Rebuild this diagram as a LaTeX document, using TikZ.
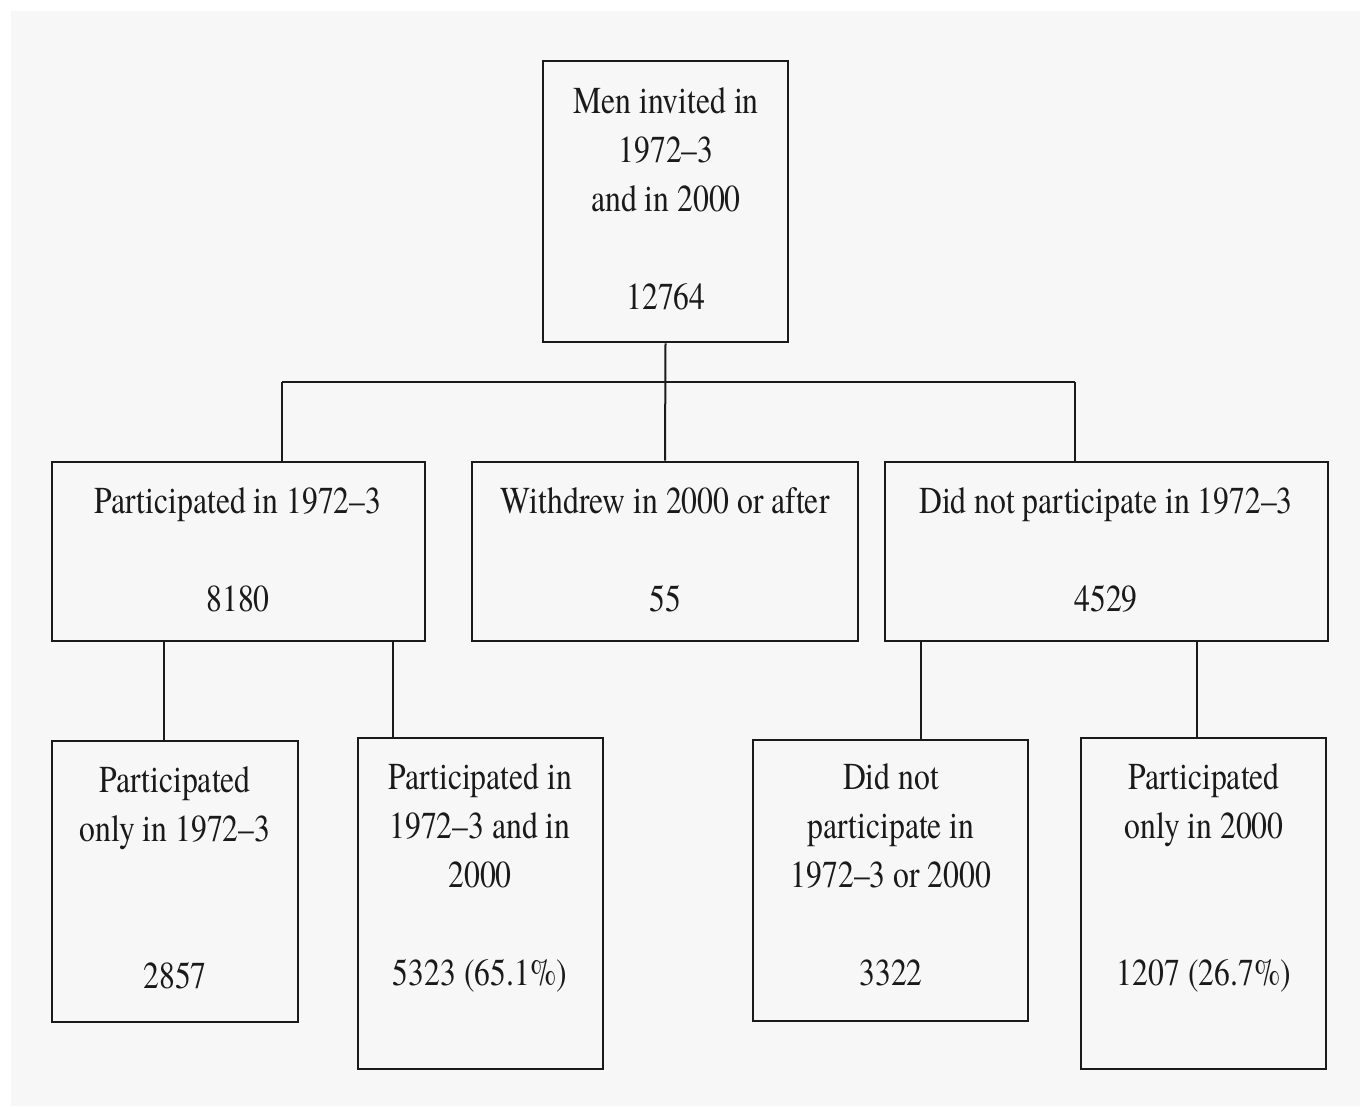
\documentclass[tikz,border=0pt]{standalone}
\usepackage{fontspec}
\setmainfont{TeX Gyre Termes}[FakeStretch=0.833]
\definecolor{bg}{HTML}{F7F7F7}
\definecolor{ink}{HTML}{1A1A1A}
\begin{document}
\begin{tikzpicture}[x=1pt,y=-1pt,
  box/.style={draw=ink, line width=2.6pt, fill=bg, inner sep=0pt, rectangle},
  lbl/.style={anchor=north, inner sep=0pt, align=center, text=ink,
    font=\fontsize{38}{49}\selectfont},
  conn/.style={draw=ink, line width=2pt}]
\useasboundingbox (0,0) rectangle (1360,1106);
\fill[white] (0,0) rectangle (1360,1106);
\fill[bg] (11,11) rectangle (1360,1106);
% boxes
\node[box, minimum width=245, minimum height=281] (top) at (665.5,201.5) {};
\node[box, minimum width=373, minimum height=179] (A) at (238.5,551.5) {};
\node[box, minimum width=386, minimum height=179] (B) at (665,551.5) {};
\node[box, minimum width=443, minimum height=179] (C) at (1106.5,551.5) {};
\node[box, minimum width=246, minimum height=281] (D) at (175,881.5) {};
\node[box, minimum width=245, minimum height=331] (E) at (480.5,903.5) {};
\node[box, minimum width=275, minimum height=281] (F) at (890.5,880.5) {};
\node[box, minimum width=245, minimum height=331] (G) at (1203.5,903.5) {};
% labels
\node[lbl] (ttop) at (666,87) {Men invited in\\1972--3\\and in 2000\\[49pt]12764};
\node[lbl] (tA) at (238,487) {Participated in 1972--3\\[49pt]8180};
\node[lbl] (tB) at (665,487) {Withdrew in 2000 or after\\[49pt]55};
\node[lbl] (tC) at (1106,487) {Did not participate in 1972--3\\[49pt]4529};
\node[lbl] (tD) at (175,766) {Participated\\only in 1972--3\\[98pt]2857};
\node[lbl] (tE) at (480,763) {Participated in\\1972--3 and in\\2000\\[49pt]5323 (65.1\%)};
\node[lbl] (tF) at (891,763) {Did not\\participate in\\1972--3 or 2000\\[49pt]3322};
\node[lbl] (tG) at (1204,763) {Participated\\only in 2000\\[98pt]1207 (26.7\%)};
% connectors
\coordinate (hl) at (282,382);
\coordinate (hr) at (1075,382);
\coordinate (xa) at (164,0);
\coordinate (xb) at (393,0);
\coordinate (xc) at (921,0);
\coordinate (xd) at (1197,0);
\draw[conn] (top.south) -- (B.north);
\draw[conn] (hl) -- (hr);
\draw[conn] (hl) -- (hl |- A.north);
\draw[conn] (hr) -- (hr |- C.north);
\draw[conn] (xa |- A.south) -- (xa |- D.north);
\draw[conn] (xb |- A.south) -- (xb |- E.north);
\draw[conn] (xc |- C.south) -- (xc |- F.north);
\draw[conn] (xd |- C.south) -- (xd |- G.north);
\end{tikzpicture}
\end{document}
